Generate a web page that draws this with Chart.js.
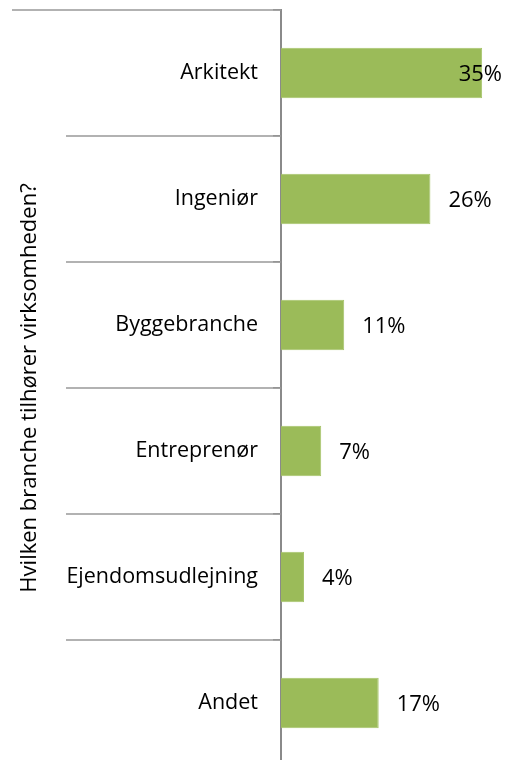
<!DOCTYPE html>
<html>
<head>
<meta charset="utf-8">
<script src="https://cdn.jsdelivr.net/npm/chart.js@4/dist/chart.umd.min.js"></script>
<style>
  html, body { margin: 0; padding: 0; background: #fff; overflow: hidden; }
  #wrap { width: 508px; height: 776px; position: relative; }
</style>
</head>
<body>
<div id="wrap"><canvas id="chart"></canvas></div>
<script>
// data
const categories = ['Arkitekt', 'Ingeniør', 'Byggebranche', 'Entreprenør', 'Ejendomsudlejning', 'Andet'];
const shares = [35, 26, 11, 7, 4, 17];
const axisTitle = 'Hvilken branche tilhører virksomheden?';

const FONT = "'Open Sans', sans-serif";

// long separator lines between categories (Excel style)
const separators = {
    id: 'separators',
    afterDraw(chart) {
        let ys = chart.scales.y;
        let ctx = chart.ctx;
        let step = ys.getPixelForValue(1) - ys.getPixelForValue(0);
        let right = chart.chartArea.left;
        ctx.save();
        ctx.strokeStyle = '#989898';
        ctx.lineWidth = 1.5;
        for (let i = 0; i < categories.length; i++) {
            let y = ys.getPixelForValue(i) - step / 2;
            ctx.beginPath();
            ctx.moveTo(i === 0 ? 12 : 66, y);
            ctx.lineTo(right, y);
            ctx.stroke();
        }
        ctx.restore();
    }
};

// value labels next to bars
const valueLabels = {
    id: 'valueLabels',
    afterDatasetsDraw(chart) {
        let ctx = chart.ctx;
        let meta = chart.getDatasetMeta(0);
        ctx.save();
        ctx.font = '22px ' + FONT;
        ctx.fillStyle = '#000';
        ctx.textBaseline = 'middle';
        ctx.textAlign = 'left';
        meta.data.forEach((bar, i) => {
            let txt = shares[i] + '%';
            let w = ctx.measureText(txt).width;
            let x = Math.min(bar.x + 18, chart.width - 6 - w);
            ctx.fillText(txt, x, bar.y + 2);
        });
        ctx.restore();
    }
};

new Chart(document.getElementById('chart'), {
    type: 'bar',
    data: {
        labels: categories,
        datasets: [{
            data: shares,
            backgroundColor: '#9bbb59',
            borderColor: '#a6c46a',
            borderWidth: 1,
            borderSkipped: 'left',
            categoryPercentage: 1,
            barPercentage: 0.4
        }]
    },
    options: {
        indexAxis: 'y',
        responsive: true,
        maintainAspectRatio: false,
        animation: false,
        layout: { padding: { top: 10, bottom: 10, left: 0, right: 0 } },
        plugins: {
            legend: { display: false },
            tooltip: { enabled: false }
        },
        scales: {
            x: {
                display: false,
                min: 0,
                max: 39.5
            },
            y: {
                afterFit(scale) {
                    scale.width = 281;
                    scale.paddingTop = 0;
                    scale.paddingBottom = 0;
                },
                grid: {
                    offset: true,
                    drawOnChartArea: false,
                    tickLength: 8,
                    color: '#8a8a8a',
                    lineWidth: 1.5
                },
                border: { color: '#8a8a8a', width: 2 },
                ticks: {
                    color: '#000',
                    padding: 15,
                    font: { family: FONT, size: 21.5 }
                },
                title: {
                    display: true,
                    text: axisTitle,
                    color: '#000',
                    padding: { top: 17, bottom: 0 },
                    font: { family: FONT, size: 22 }
                }
            }
        }
    },
    plugins: [separators, valueLabels]
});
</script>
</body>
</html>
